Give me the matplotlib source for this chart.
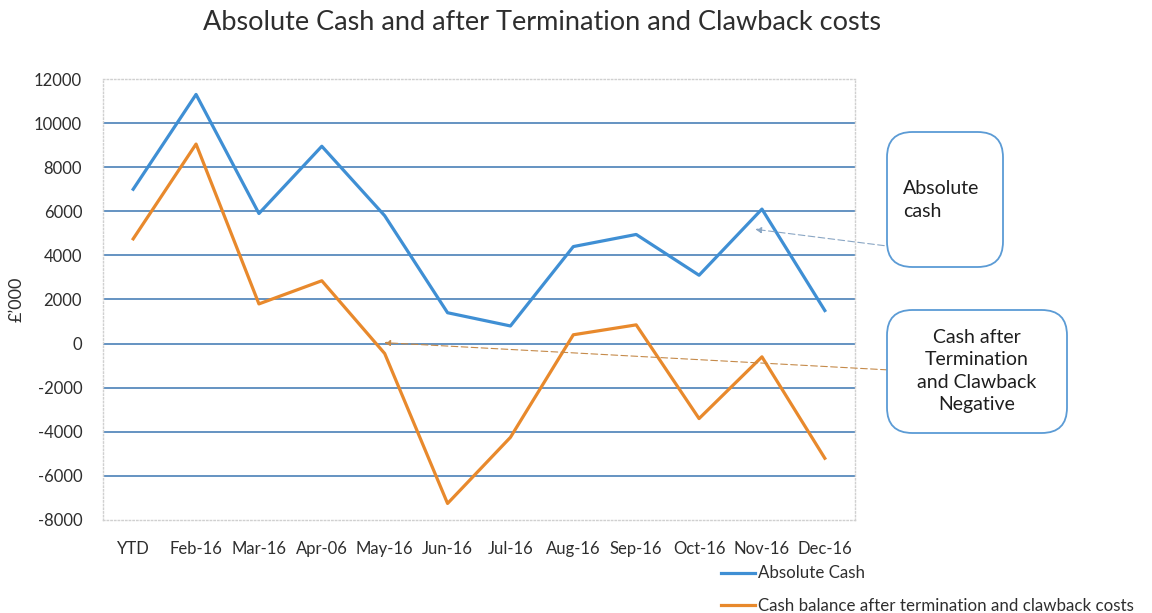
import matplotlib
matplotlib.use("Agg")
import matplotlib.pyplot as plt
from matplotlib.lines import Line2D
from matplotlib.patches import FancyBboxPatch

plt.rcParams['font.family'] = ['Lato', 'DejaVu Sans']
plt.rcParams['axes.unicode_minus'] = False

months = ['YTD', 'Feb-16', 'Mar-16', 'Apr-06', 'May-16', 'Jun-16',
          'Jul-16', 'Aug-16', 'Sep-16', 'Oct-16', 'Nov-16', 'Dec-16']
absolute_cash = [7000, 11300, 5900, 8950, 5800, 1400, 800, 4400, 4950, 3100, 6100, 1500]
cash_after_costs = [4750, 9050, 1800, 2850, -450, -7250, -4250, 400, 850, -3400, -600, -5200]
y_ticks = list(range(-8000, 12001, 2000))

blue = '#3f8fd4'
orange = '#e8892c'
grid_col = '#4a80b8'
text_col = '#2e2e2e'

W, H = 1152, 613
fig = plt.figure(figsize=(W / 100, H / 100), dpi=100)
ax = fig.add_axes([103 / W, 1 - 520 / H, 752 / W, 441 / H])

x = list(range(len(months)))
ax.plot(x, absolute_cash, color=blue, lw=2.3, label='Absolute Cash')
ax.plot(x, cash_after_costs, color=orange, lw=2.3,
        label='Cash balance after termination and clawback costs')

ax.set_xlim(-0.48, 11.48)
ax.set_ylim(-8000, 12000)
ax.set_yticks(y_ticks)
ax.set_xticks(x)
ax.set_xticklabels(months)
ax.tick_params(length=0, labelsize=12, colors=text_col)
ax.tick_params(axis='y', pad=15)
ax.tick_params(axis='x', pad=15)

# horizontal gridlines only, none at the top edge
for v in y_ticks[1:-1]:
    ax.axhline(v, color=grid_col, lw=1.2, zorder=0)

for side in ['left', 'bottom', 'top', 'right']:
    ax.spines[side].set_color('#d0d0d0')
    ax.spines[side].set_linestyle(':')
    ax.spines[side].set_linewidth(1.0)

ax.set_ylabel("£’000", fontsize=13, color=text_col)
ax.yaxis.set_label_coords(-0.104, 0.5)

fig.text(542 / W, 1 - 22 / H, 'Absolute Cash and after Termination and Clawback costs',
         ha='center', va='center', fontsize=19.5, color=text_col)

# dashed pointers from the callouts to the lines
ax.annotate('', xy=(9.85, 5200), xycoords='data',
            xytext=(887 / W, 1 - 246 / H), textcoords='figure fraction',
            arrowprops=dict(arrowstyle='-|>', color='#8aa6c4', lw=0.8,
                            linestyle=(0, (6, 3)), mutation_scale=9))
ax.annotate('', xy=(3.95, 50), xycoords='data',
            xytext=(890 / W, 1 - 370 / H), textcoords='figure fraction',
            arrowprops=dict(arrowstyle='-|>', color='#c58a4a', lw=0.8,
                            linestyle=(0, (6, 3)), mutation_scale=9))


def callout(x0, y0, x1, y1):
    fig.patches.append(FancyBboxPatch(
        (x0 / W, 1 - y1 / H), (x1 - x0) / W, (y1 - y0) / H, transform=fig.transFigure,
        boxstyle='round,pad=0,rounding_size=0.022', fc='white', ec='#5b9bd5', lw=1.3,
        mutation_aspect=W / H))


callout(887, 132, 1003, 267)
fig.text(903 / W, 1 - 200 / H, 'Absolute\ncash', ha='left', va='center',
         fontsize=14, color='#1e1e1e', linespacing=1.45)

callout(887, 310, 1067, 433)
fig.text(977 / W, 1 - 371 / H, 'Cash after\nTermination\nand Clawback\nNegative',
         ha='center', va='center', fontsize=14, color='#1e1e1e', linespacing=1.38)

handles = [Line2D([], [], color=blue, lw=2.3), Line2D([], [], color=orange, lw=2.3)]
fig.legend(handles, ['Absolute Cash', 'Cash balance after termination and clawback costs'],
           loc='upper left', bbox_to_anchor=(713 / W, 1 - 557 / H), frameon=False,
           fontsize=12.2, handlelength=2.0, handletextpad=0.15, labelspacing=0.95,
           borderpad=0, labelcolor=text_col)

fig.savefig('out.png', dpi=100)
